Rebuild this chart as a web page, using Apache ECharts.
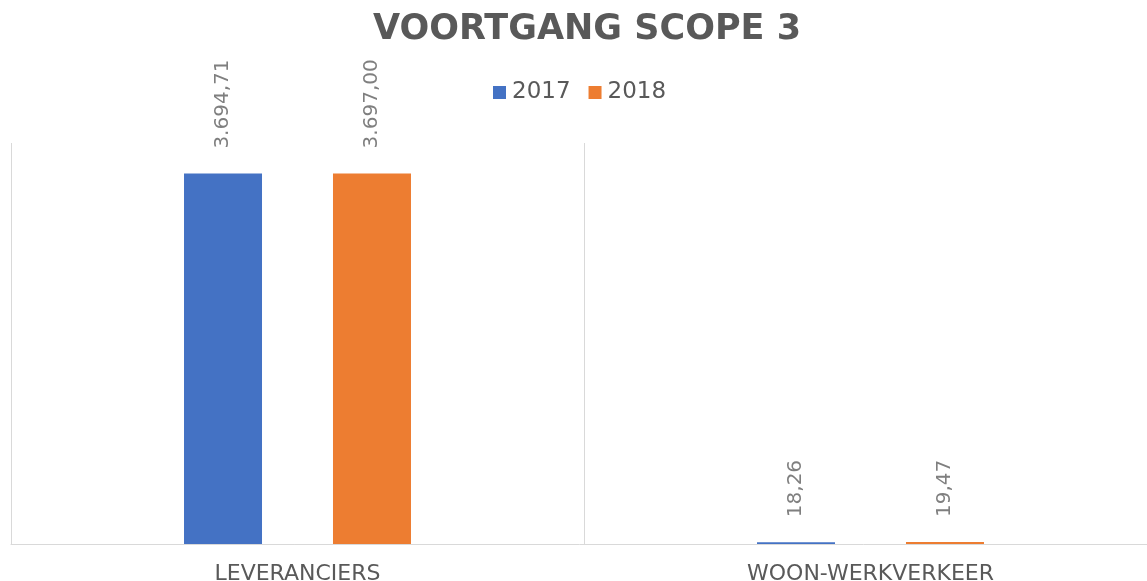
<!DOCTYPE html>
<html>
<head>
<meta charset="utf-8">
<script src="https://cdn.jsdelivr.net/npm/echarts@6/dist/echarts.min.js"></script>
<style>
html, body { margin: 0; padding: 0; background: #fff; }
#chart { width: 1147px; height: 581px; }
</style>
</head>
<body>
<div id="chart"></div>
<script>
// data
var categories = ['LEVERANCIERS', 'WOON-WERKVERKEER'];
var values2017 = [3694.71, 18.26];
var values2018 = [3697.00, 19.47];

function fmt(v) {
    // 3694.71 -> 3.694,71
    var parts = v.toFixed(2).split('.');
    var intPart = parts[0].replace(/\B(?=(\d{3})+(?!\d))/g, '.');
    return intPart + ',' + parts[1];
}

var labelStyle = {
    show: true,
    position: 'top',
    rotate: 90,
    align: 'left',
    verticalAlign: 'middle',
    distance: 25,
    color: '#7f7f7f',
    fontSize: 20,
    fontFamily: 'DejaVu Sans',
    formatter: function (p) { return fmt(p.value); }
};

var option = {
    animation: false,
    backgroundColor: '#ffffff',
    title: {
        text: 'VOORTGANG SCOPE 3',
        left: 368,
        top: 7,
        textStyle: {
            color: '#595959',
            fontSize: 35,
            fontWeight: 'bold',
            fontFamily: 'DejaVu Sans'
        }
    },
    legend: {
        data: ['2017', '2018'],
        left: 488,
        top: 76,
        itemWidth: 13,
        itemHeight: 13,
        itemGap: 18,
        icon: 'rect',
        textStyle: {
            color: '#595959',
            fontSize: 23,
            fontFamily: 'DejaVu Sans',
            padding: [0, 0, 0, 1]
        }
    },
    grid: {
        left: 11,
        right: -10,
        top: 143,
        bottom: 37,
        outerBoundsMode: 'none',
        containLabel: false
    },
    xAxis: {
        type: 'category',
        data: categories,
        axisLine: { show: true, lineStyle: { color: '#d9d9d9', width: 1 } },
        axisTick: { show: false },
        splitLine: { show: true, interval: 0, lineStyle: { color: '#d9d9d9', width: 1 } },
        axisLabel: {
            margin: 19,
            color: '#595959',
            fontSize: 22,
            fontFamily: 'DejaVu Sans'
        }
    },
    yAxis: {
        type: 'value',
        min: 0,
        max: 4000,
        show: false,
        splitLine: { show: false }
    },
    series: [
        {
            name: '2017',
            type: 'bar',
            data: values2017,
            barWidth: 78,
            barGap: '91%',
            itemStyle: { color: '#4472C4' },
            label: labelStyle
        },
        {
            name: '2018',
            type: 'bar',
            data: values2018,
            barWidth: 78,
            barGap: '91%',
            itemStyle: { color: '#ED7D31' },
            label: labelStyle
        }
    ]
};

var myChart = echarts.init(document.getElementById('chart'));
myChart.setOption(option);
window.addEventListener('resize', function () {
    myChart.resize();
});
</script>
</body>
</html>
